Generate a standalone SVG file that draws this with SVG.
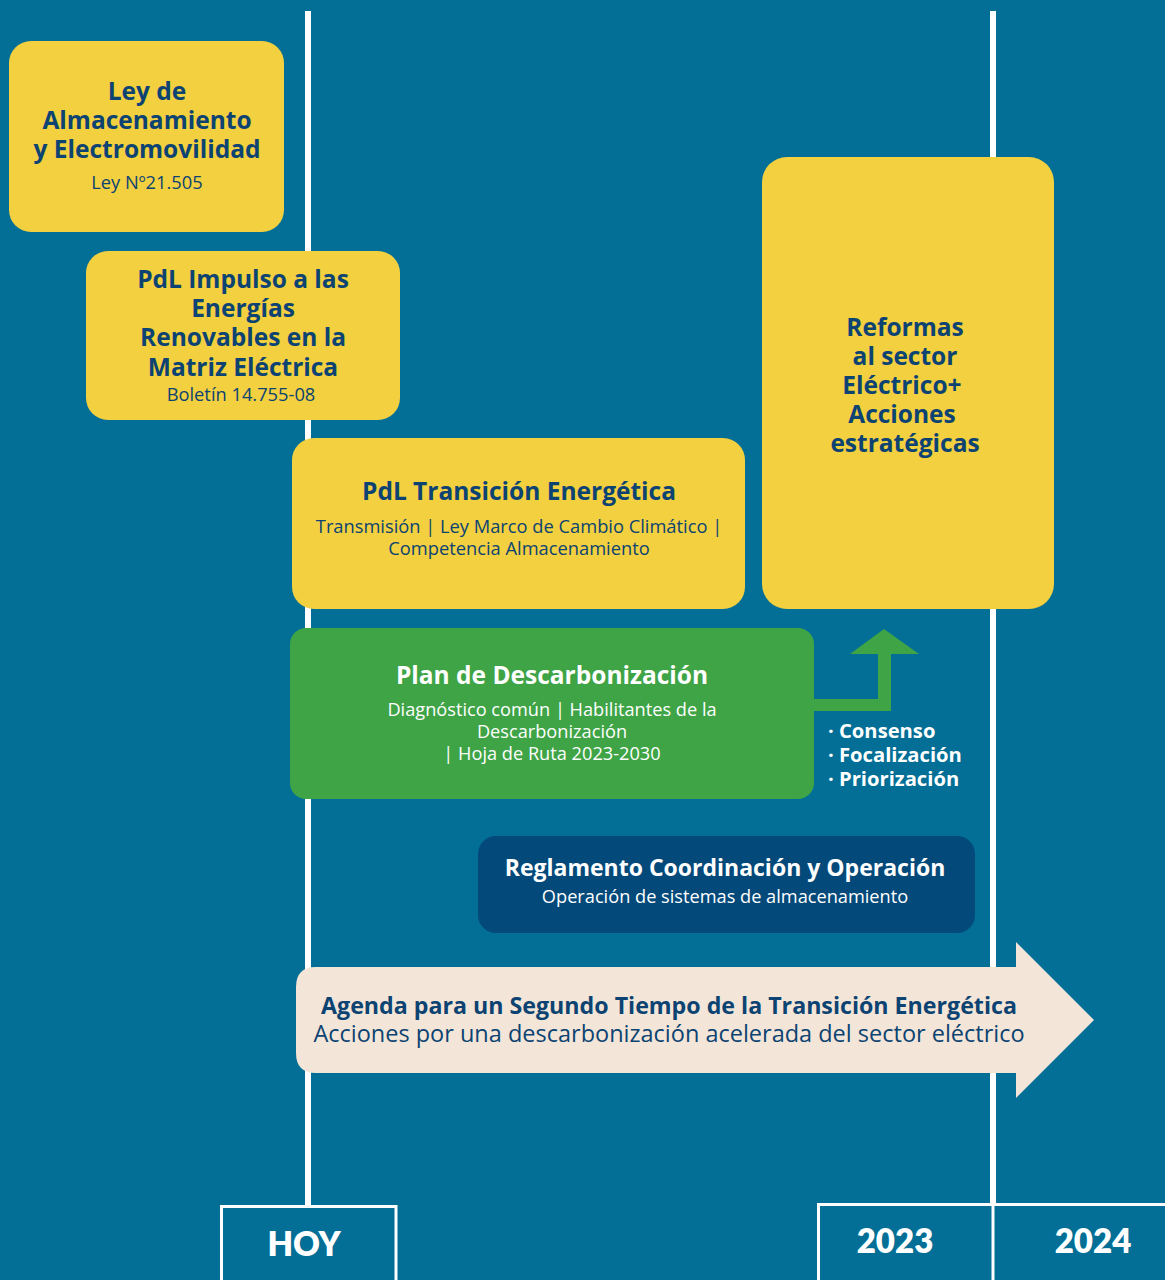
<svg xmlns="http://www.w3.org/2000/svg" width="1165" height="1280" viewBox="0 0 1165 1280">
<style>
.bg{fill:#036f96}
.yel{fill:#f2d03f}
.grn{fill:#3ea446}
.nav{fill:#03497a}
.crm{fill:#f3e6d8}
.tl{stroke:#ffffff;stroke-width:6;fill:none}
.bx{stroke:#ffffff;stroke-width:3;fill:none}
text{font-family:"Open Sans","Liberation Sans",sans-serif;text-anchor:middle}
.hd{font-weight:700;font-size:24.5px;fill:#0c4372}
.sb{font-weight:400;font-size:18.3px;fill:#0c4372}
.hw{font-weight:700;font-size:24.5px;fill:#ffffff}
.sw{font-weight:400;font-size:18.2px;fill:#ffffff}
.yr{font-family:"Lato","Open Sans",sans-serif;font-weight:800;font-size:33px;fill:#ffffff}
.bl{font-weight:700;font-size:20.2px;fill:#ffffff;text-anchor:start}
</style>
<rect class="bg" x="0" y="0" width="1165" height="1280"/>

<g id="timeline">
  <line class="tl" x1="308" y1="11" x2="308" y2="1206"/>
  <line class="tl" x1="993" y1="11" x2="993" y2="1204"/>
  <path class="bx" d="M221.5 1282 V1206.5 H396 V1282"/>
  <path class="bx" d="M818.5 1282 V1204.5 H1166"/>
  <line class="bx" x1="993" y1="1204" x2="993" y2="1282"/>
</g>

<g id="node-ley">
  <rect class="yel" x="9" y="41" width="275" height="191" rx="22"/>
  <text class="hd" x="147" y="100">Ley de</text>
  <text class="hd" x="147" y="129">Almacenamiento</text>
  <text class="hd" x="147" y="158">y Electromovilidad</text>
  <text class="sb" x="147" y="189">Ley Nº21.505</text>
</g>

<g id="node-pdl-impulso">
  <rect class="yel" x="86" y="251" width="314" height="169" rx="22"/>
  <text class="hd" x="243" y="288">PdL Impulso a las</text>
  <text class="hd" x="243" y="317">Energías</text>
  <text class="hd" x="243" y="346">Renovables en la</text>
  <text class="hd" x="243" y="376">Matriz Eléctrica</text>
  <text class="sb" x="241" y="401">Boletín 14.755-08</text>
</g>

<g id="node-pdl-transicion">
  <rect class="yel" x="292" y="438" width="453" height="171" rx="22"/>
  <text class="hd" x="519" y="500">PdL Transición Energética</text>
  <text class="sb" x="519" y="533">Transmisión | Ley Marco de Cambio Climático |</text>
  <text class="sb" x="519" y="555">Competencia Almacenamiento</text>
</g>

<g id="node-reformas">
  <rect class="yel" x="762" y="157" width="292" height="452" rx="25"/>
  <text class="hd" x="905" y="336">Reformas</text>
  <text class="hd" x="905" y="365">al sector</text>
  <text class="hd" x="902" y="394">Eléctrico+</text>
  <text class="hd" x="902" y="423">Acciones</text>
  <text class="hd" x="905" y="452">estratégicas</text>
</g>

<g id="connectors">
  <path class="grn" d="M812 699 H878 V654 H850 L884 629 L919 654 H891 V711 H812 Z"/>
</g>

<g id="node-plan">
  <rect class="grn" x="290" y="628" width="524" height="171" rx="16"/>
  <text class="hw" x="552" y="684">Plan de Descarbonización</text>
  <text class="sw" x="552" y="716">Diagnóstico común | Habilitantes de la</text>
  <text class="sw" x="552" y="738">Descarbonización</text>
  <text class="sw" x="552" y="760">| Hoja de Ruta 2023-2030</text>
</g>

<g id="bullets">
  <text class="bl" x="828" y="738">· Consenso</text>
  <text class="bl" x="828" y="762">· Focalización</text>
  <text class="bl" x="828" y="786">· Priorización</text>
</g>

<g id="node-reglamento">
  <rect class="nav" x="478" y="836" width="497" height="97" rx="18"/>
  <text class="hw" x="725" y="876" style="font-size:23px">Reglamento Coordinación y Operación</text>
  <text class="sw" x="725" y="903">Operación de sistemas de almacenamiento</text>
</g>

<g id="node-agenda">
  <path class="crm" d="M316 967 H1016 V942 L1094 1020 L1016 1098 V1073 H316 Q296 1073 296 1053 V987 Q296 967 316 967 Z"/>
  <text class="hd" x="669" y="1014" style="font-size:23.2px">Agenda para un Segundo Tiempo de la Transición Energética</text>
  <text class="sb" x="669" y="1042" style="font-size:23.5px">Acciones por una descarbonización acelerada del sector eléctrico</text>
</g>

<g id="labels">
  <text class="yr" x="304" y="1256">HOY</text>
  <text class="yr" x="895" y="1253">2023</text>
  <text class="yr" x="1093" y="1253">2024</text>
</g>
</svg>
